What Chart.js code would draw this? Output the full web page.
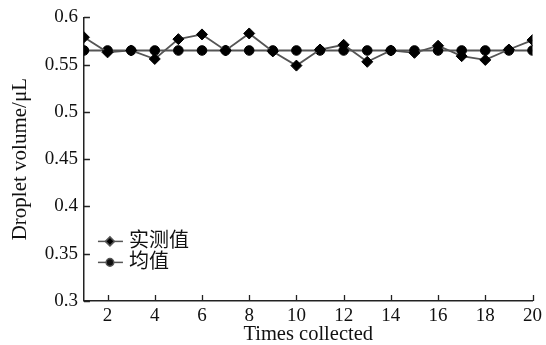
<!DOCTYPE html>
<html>
<head>
<meta charset="utf-8">
<script src="https://cdn.jsdelivr.net/npm/chart.js@4"></script>
<style>
  html, body { margin: 0; padding: 0; background: #fff; }
  #wrap { width: 546px; height: 345px; }
</style>
</head>
<body>
<div id="wrap"><canvas id="grafico"></canvas></div>
<script>
let times = [1, 2, 3, 4, 5, 6, 7, 8, 9, 10, 11, 12, 13, 14, 15, 16, 17, 18, 19, 20]
let medido = [0.579, 0.563, 0.565, 0.556, 0.577, 0.582, 0.565, 0.583, 0.564, 0.549,
    0.566, 0.571, 0.553, 0.565, 0.5625, 0.570, 0.559, 0.555, 0.566, 0.576]
let media = times.map(() => 0.565)
let xTicks = [2, 4, 6, 8, 10, 12, 14, 16, 18, 20]
let labels = ['实测值', '均值']

const fonte = "'Liberation Serif', 'Noto Sans CJK SC', serif"

// ticks para dentro + legenda dentro do grafico
const extras = {
    id: 'extras',
    afterDraw(chart) {
        const c = chart.ctx
        const a = chart.chartArea
        const x = chart.scales.x, y = chart.scales.y
        c.save()
        c.strokeStyle = '#222'
        c.lineWidth = 1.3
        c.beginPath()
        x.ticks.forEach(t => {
            const px = Math.round(x.getPixelForValue(t.value)) + 0.5
            c.moveTo(px, a.bottom); c.lineTo(px, a.bottom - 6)
        })
        y.ticks.forEach(t => {
            const py = Math.round(y.getPixelForValue(t.value)) + 0.5
            c.moveTo(a.left, py); c.lineTo(a.left + 6, py)
        })
        c.stroke()

        // legenda
        chart.data.datasets.forEach((ds, i) => {
            const ly = a.top + 224 + i * 21
            const lx = a.left + 14
            c.strokeStyle = ds.borderColor
            c.lineWidth = 1.5
            c.beginPath(); c.moveTo(lx, ly); c.lineTo(lx + 25, ly); c.stroke()
            Chart.helpers.drawPoint(c, {
                pointStyle: ds.pointStyle, radius: ds.pointRadius - 1, borderWidth: 1
            }, lx + 12, ly)
            c.fillStyle = '#111'
            c.font = "20px 'Liberation Serif', 'Noto Sans CJK SC', serif"
            c.textBaseline = 'middle'
            c.fillText(ds.label, lx + 31, ly)
        })
        c.restore()
    }
}

let ctx = document.getElementById('grafico').getContext('2d')

let grafico = new Chart(ctx, {
    type: 'line',
    data: {
        datasets: [{
            label: labels[0],
            data: times.map((t, i) => ({x: t, y: medido[i]})),
            borderColor: '#555',
            borderWidth: 1.8,
            pointStyle: 'rectRot',
            pointRadius: 5.5,
            pointBackgroundColor: '#000',
            pointBorderColor: '#000',
            pointBorderWidth: 1,
        }, {
            label: labels[1],
            data: times.map((t, i) => ({x: t, y: media[i]})),
            borderColor: '#555',
            borderWidth: 1.8,
            pointStyle: 'circle',
            pointRadius: 4.8,
            pointBackgroundColor: '#000',
            pointBorderColor: '#000',
            pointBorderWidth: 1,
        }]
    },
    plugins: [extras],
    options: {
        responsive: true,
        maintainAspectRatio: false,
        animation: false,
        layout: {
            padding: {top: 13, right: 8, left: 8, bottom: 0}
        },
        scales: {
            x: {
                type: 'linear',
                min: 1,
                max: 20,
                afterBuildTicks: s => { s.ticks = xTicks.map(v => ({value: v})) },
                grid: {display: false, drawTicks: false},
                border: {color: '#222', width: 1.5},
                ticks: {
                    color: '#111',
                    padding: 4,
                    maxRotation: 0,
                    font: {family: fonte, size: 19}
                },
                title: {
                    display: true,
                    text: 'Times collected',
                    color: '#111',
                    padding: {top: -9, bottom: -2.3},
                    font: {family: fonte, size: 20.5}
                }
            },
            y: {
                min: 0.3,
                max: 0.6,
                grid: {display: false, drawTicks: false},
                border: {color: '#222', width: 1.5},
                ticks: {
                    stepSize: 0.05,
                    color: '#111',
                    padding: 6,
                    font: {family: fonte, size: 19},
                    callback: v => String(+v.toFixed(2))
                },
                title: {
                    display: true,
                    text: 'Droplet volume/μL',
                    color: '#111',
                    padding: {top: 0, bottom: 5.5},
                    font: {family: fonte, size: 21}
                }
            }
        },
        plugins: {
            legend: {display: false},
            tooltip: {enabled: false}
        }
    }
})
</script>
</body>
</html>
